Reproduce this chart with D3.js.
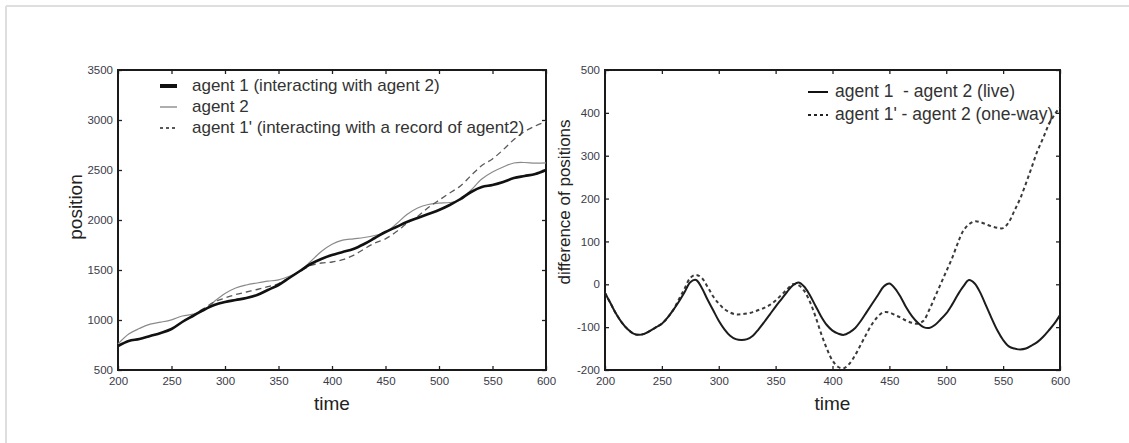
<!DOCTYPE html>
<html lang="en">
<head>
<meta charset="utf-8">
<title>agent positions</title>
<script src="https://cdn.jsdelivr.net/npm/d3@7"></script>
<style>
  body { margin: 0; background: #fff; }
  svg { display: block; font-family: "Liberation Sans", Arial, Helvetica, sans-serif; }
  .tick text { fill: #3a3a48; font-size: 11.5px; }
  .tick line { stroke: #222; stroke-width: 1.3; }
  .legend text { fill: #333; white-space: pre; }
</style>
</head>
<body>
<div id="viz"></div>
<script>
// DATA - left panel (position over time)
var timeLeft = [200, 210, 220, 230, 240, 250, 260, 270, 280, 290, 300, 310, 320, 330, 340, 350, 360, 370, 380, 390,
  400, 410, 420, 430, 440, 450, 460, 470, 480, 490, 500, 510, 520, 530, 540, 550, 560, 570, 580, 590, 600];

var agent1 = [740, 790, 810, 840, 870, 910, 980, 1040, 1100, 1150, 1180, 1200, 1220, 1250, 1300, 1350, 1420, 1490, 1560, 1610,
  1650, 1680, 1710, 1760, 1820, 1880, 1930, 1980, 2020, 2060, 2100, 2150, 2210, 2280, 2330, 2350, 2380, 2420, 2440, 2460, 2500];

var agent2 = [760, 860, 915, 958, 978, 1002, 1040, 1058, 1092, 1185, 1265, 1320, 1350, 1370, 1388, 1402, 1438, 1487, 1585, 1685,
  1758, 1798, 1812, 1825, 1845, 1878, 1960, 2055, 2120, 2155, 2168, 2175, 2200, 2300, 2410, 2480, 2530, 2570, 2575, 2568, 2572];

var agent1Rec = [740, 790, 810, 840, 870, 910, 980, 1048, 1114, 1180, 1220, 1254, 1280, 1305, 1333, 1364, 1426, 1485, 1545, 1570,
  1580, 1603, 1647, 1710, 1770, 1812, 1882, 1965, 2035, 2125, 2198, 2270, 2340, 2445, 2545, 2611, 2703, 2805, 2885, 2940, 2985];

var leftYTicks = [500, 1000, 1500, 2000, 2500, 3000, 3500];
var leftLabels = ["agent 1 (interacting with agent 2)", "agent 2", "agent 1' (interacting with a record of agent2)"];

// DATA - right panel (difference of positions)
var timeRight = [200, 205, 210, 215, 220, 225, 230, 235, 240, 245, 250, 255, 260, 265, 270, 275, 280, 285, 290, 295,
  300, 305, 310, 315, 320, 325, 330, 335, 340, 345, 350, 355, 360, 365, 370, 375, 380, 385, 390, 395,
  400, 405, 410, 415, 420, 425, 430, 435, 440, 445, 450, 455, 460, 465, 470, 475, 480, 485, 490, 495,
  500, 505, 510, 515, 520, 525, 530, 535, 540, 545, 550, 555, 560, 565, 570, 575, 580, 585, 590, 595, 600];

var diffLive = [-20, -45, -70, -90, -105, -115, -118, -115, -108, -100, -92, -78, -60, -40, -18, 5, 10, -8, -35, -60,
  -85, -105, -120, -128, -130, -128, -120, -105, -88, -70, -52, -35, -18, -3, 4, -5, -25, -50, -75, -95,
  -108, -115, -118, -112, -102, -85, -65, -45, -25, -5, 2, -10, -30, -55, -75, -90, -100, -102, -95, -82,
  -68, -48, -25, -5, 10, 2, -20, -50, -80, -108, -130, -145, -150, -152, -150, -143, -135, -123, -108, -92, -72];

var diffOneWay = [-20, -45, -70, -90, -105, -115, -118, -115, -108, -100, -92, -78, -60, -35, -10, 15, 22, 15, -5, -28,
  -45, -58, -66, -70, -70, -68, -65, -60, -55, -48, -38, -25, -12, 0, -2, -15, -40, -75, -115, -150,
  -178, -193, -196, -185, -165, -140, -115, -92, -75, -65, -66, -72, -78, -85, -90, -92, -85, -60, -30, 0,
  30, 60, 95, 125, 140, 147, 145, 140, 135, 132, 131, 145, 172, 200, 235, 272, 310, 340, 372, 395, 413];

var rightYTicks = [-200, -100, 0, 100, 200, 300, 400, 500];
var rightLabels = ["agent 1  - agent 2 (live)", "agent 1' - agent 2 (one-way)"];

var xTicks = [200, 250, 300, 350, 400, 450, 500, 550, 600];

// DIMENSIONS
var w = 1129, h = 443;

// plain integer labels, ascii minus
var plain = function (d) { return String(d); };

var svg = d3.select("#viz").append("svg")
  .attr("width", w)
  .attr("height", h);

// light frame on top and left
svg.append("line").attr("x1", 6).attr("x2", w).attr("y1", 6).attr("y2", 6)
  .attr("stroke", "#dedede").attr("stroke-width", 2);
svg.append("line").attr("x1", 6).attr("x2", 6).attr("y1", 6).attr("y2", h)
  .attr("stroke", "#dedede").attr("stroke-width", 2);

// draws box, inward ticks on all sides, labels on left/bottom
function panel(box, yDomain, yTicks) {
  var x = d3.scaleLinear().domain([200, 600]).range([box.left, box.right]);
  var y = d3.scaleLinear().domain(yDomain).range([box.bottom, box.top]);

  svg.append("g").attr("transform", "translate(0," + box.bottom + ")")
    .call(d3.axisBottom(x).tickValues(xTicks).tickFormat(plain).tickSizeInner(-4).tickSizeOuter(0).tickPadding(7));
  svg.append("g").attr("transform", "translate(0," + box.top + ")")
    .call(d3.axisTop(x).tickValues(xTicks).tickSizeInner(-4).tickSizeOuter(0).tickFormat(""));
  svg.append("g").attr("transform", "translate(" + box.left + ",0)")
    .call(d3.axisLeft(y).tickValues(yTicks).tickFormat(plain).tickSizeInner(-4).tickSizeOuter(0).tickPadding(5));
  svg.append("g").attr("transform", "translate(" + box.right + ",0)")
    .call(d3.axisRight(y).tickValues(yTicks).tickSizeInner(-4).tickSizeOuter(0).tickFormat(""));
  svg.selectAll(".domain").remove();

  svg.append("rect")
    .attr("x", box.left).attr("y", box.top)
    .attr("width", box.right - box.left).attr("height", box.bottom - box.top)
    .attr("fill", "none").attr("stroke", "#1a1a1a").attr("stroke-width", 2);

  svg.append("text")
    .attr("x", (box.left + box.right) / 2).attr("y", 410)
    .attr("text-anchor", "middle")
    .style("font-size", "19px").style("fill", "#222")
    .text("time");

  return { x: x, y: y };
}

function drawLine(sc, xs, ys, stroke, width, dash) {
  var line = d3.line()
    .x(function (d, i) { return sc.x(xs[i]); })
    .y(function (d) { return sc.y(d); })
    .curve(d3.curveCatmullRom.alpha(0.5));
  svg.append("path")
    .datum(ys)
    .attr("d", line)
    .attr("fill", "none")
    .attr("stroke", stroke)
    .attr("stroke-width", width)
    .attr("stroke-dasharray", dash || null)
    .attr("stroke-linejoin", "round");
}

// LEFT PANEL
var left = panel({ left: 118, right: 546, top: 70, bottom: 370 }, [500, 3500], leftYTicks);
drawLine(left, timeLeft, agent2, "#8a8a8a", 1.2);
drawLine(left, timeLeft, agent1Rec, "#5a5a5a", 1.3, "6,4");
drawLine(left, timeLeft, agent1, "#111", 2.6);

svg.append("text")
  .attr("transform", "translate(82,207) rotate(-90)")
  .attr("text-anchor", "middle")
  .style("font-size", "19px").style("fill", "#222")
  .text("position");

var legL = svg.append("g").attr("class", "legend");
var legLStyles = [["#111", 4, null], ["#777", 1.2, null], ["#222", 1.5, "3,3"]];
leftLabels.forEach(function (t, i) {
  var yb = 91 + i * 21;
  legL.append("line")
    .attr("x1", 160).attr("x2", 177).attr("y1", yb - 5).attr("y2", yb - 5)
    .attr("stroke", legLStyles[i][0]).attr("stroke-width", legLStyles[i][1])
    .attr("stroke-dasharray", legLStyles[i][2]);
  legL.append("text").attr("x", 192).attr("y", yb)
    .style("font-size", "17px").text(t);
});

// RIGHT PANEL
var right = panel({ left: 605, right: 1060, top: 70, bottom: 370 }, [-200, 500], rightYTicks);
drawLine(right, timeRight, diffOneWay, "#3a3a3a", 2, "3.5,3");
drawLine(right, timeRight, diffLive, "#1c1c1c", 2);

svg.append("text")
  .attr("transform", "translate(570,202) rotate(-90)")
  .attr("text-anchor", "middle")
  .style("font-size", "17px").style("fill", "#222")
  .text("difference of positions");

var legR = svg.append("g").attr("class", "legend");
var legRStyles = [["#111", 2, null], ["#222", 2, "3,3"]];
rightLabels.forEach(function (t, i) {
  var yb = 97 + i * 23;
  legR.append("line")
    .attr("x1", 808).attr("x2", 828).attr("y1", yb - 5).attr("y2", yb - 5)
    .attr("stroke", legRStyles[i][0]).attr("stroke-width", legRStyles[i][1])
    .attr("stroke-dasharray", legRStyles[i][2]);
  legR.append("text").attr("x", 835).attr("y", yb)
    .style("font-size", "17.5px").text(t);
});
</script>
</body>
</html>
